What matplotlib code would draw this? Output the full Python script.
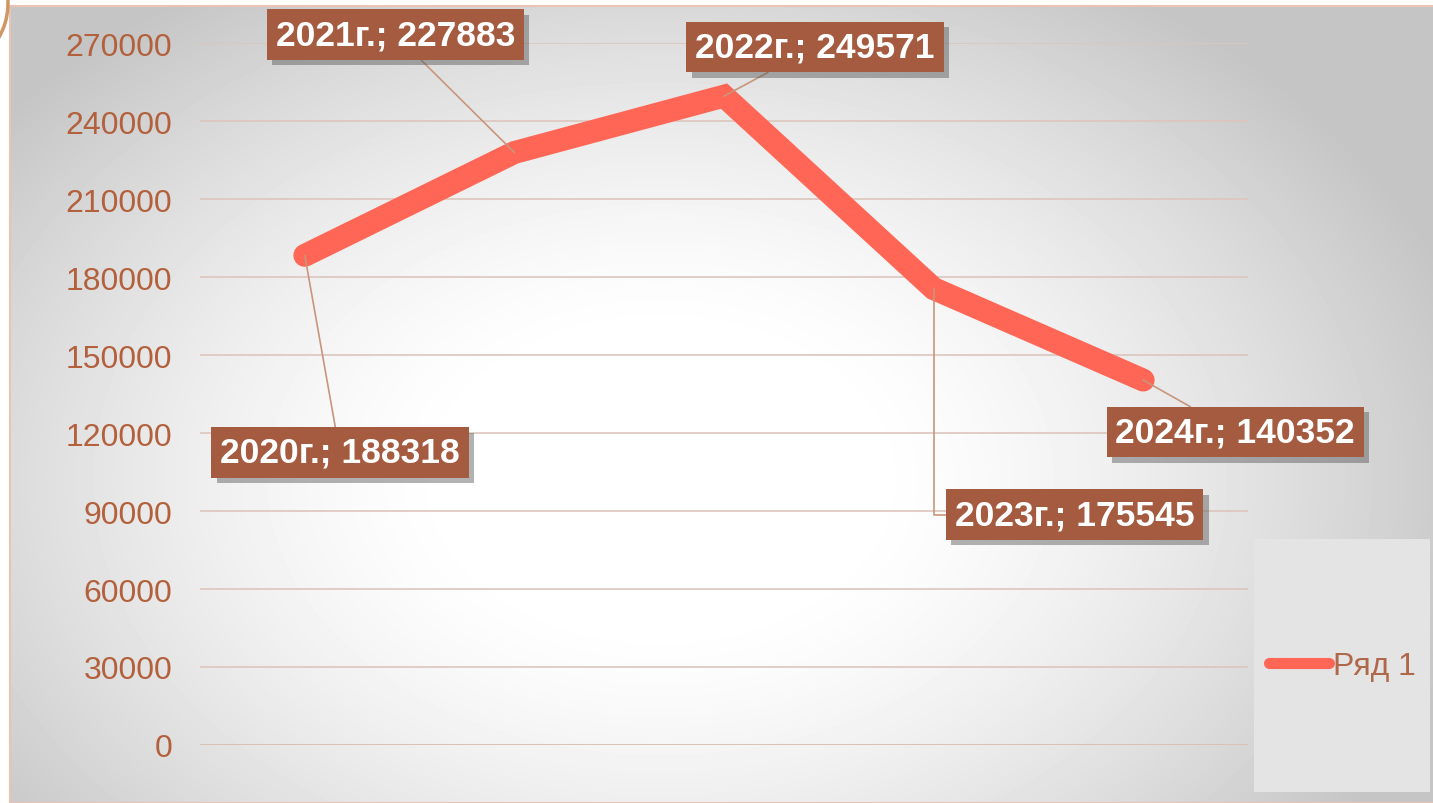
import numpy as np
import matplotlib
matplotlib.use("Agg")
import matplotlib.pyplot as plt
from matplotlib import patheffects
from matplotlib.patches import Rectangle, Arc

plt.rcParams['font.family'] = ['Liberation Sans', 'DejaVu Sans']

years = ["2020г.", "2021г.", "2022г.", "2023г.", "2024г."]
values = [188318, 227883, 249571, 175545, 140352]
series_name = "Ряд 1"
yticks = [0, 30000, 60000, 90000, 120000, 150000, 180000, 210000, 240000, 270000]

# label placement (pixel offsets from the point) and leader style
offsets = [(35, -197), (-119, 118), (91, 49), (141, -226), (92, -52)]
leader = [None, None, None, "angle,angleA=0,angleB=90,rad=0", None]

W, H = 1433, 804
fig = plt.figure(figsize=(W / 100, H / 100), dpi=100)
fig.patch.set_facecolor("white")

# slide background: radial gradient panel
bg = fig.add_axes([10 / W, 0, 1 - 10 / W, (H - 7) / H], zorder=-3)
bw, bh = W - 10, H - 7
yy, xx = np.mgrid[0:bh, 0:bw]
r = np.sqrt(((xx + 10 - 660) / 800.0) ** 2 + ((yy + 7 - 480) / 560.0) ** 2)
shade = 1 - 0.23 * np.clip((r - 0.25) / 0.8, 0, 1) ** 1.4
bg.imshow(shade, cmap="gray", vmin=0, vmax=1, aspect="auto", interpolation="bilinear")
bg.set_axis_off()
fig.patches.append(Rectangle((10 / W, 0), 1, (H - 7) / H, transform=fig.transFigure,
                             fill=False, edgecolor="#EBC3B4", lw=1.5, zorder=-1))
fig.patches.append(Arc((-62 / W, 1 - 4 / H), 140 / W, 140 / H, theta1=-60, theta2=20,
                       transform=fig.transFigure, color="#CF9764", lw=2.5, zorder=-1))

# legend panel
fig.patches.append(Rectangle((1254 / W, (H - 793) / H), 176 / W, 253 / H,
                             transform=fig.transFigure, facecolor="#E4E4E4",
                             edgecolor="none", zorder=-1))

ax = fig.add_axes([200 / W, (H - 746) / H, 1048 / W, 702 / H], zorder=1)
ax.set_facecolor("none")
x = np.arange(len(years))
line, = ax.plot(x, values, color="#FF6655", lw=16.5, solid_capstyle="round",
                solid_joinstyle="miter", label=series_name, zorder=3)

ax.set_xlim(-0.5, len(years) - 0.5)
ax.set_ylim(0, 270000)
ax.set_yticks(yticks)
ax.set_yticklabels([str(v) for v in yticks])
ax.set_xticks([])
ax.tick_params(axis="y", length=0, pad=20, labelsize=23, labelcolor="#B3603C")
for s in ax.spines.values():
    s.set_visible(False)
ax.grid(axis="y", color="#DCC6BD", lw=1.2, zorder=1)
ax.axhline(0, color="#C9A190", lw=1.2, zorder=1)

for i in range(len(years)):
    cs = leader[i] if leader[i] else "arc3"
    rp = (0, 0.5) if leader[i] else (0.5, 0.5)
    ann = ax.annotate(f"{years[i]}; {values[i]}", (x[i], values[i]),
                      xytext=offsets[i], textcoords="offset pixels",
                      ha="center", va="center", fontsize=25.5, fontweight="bold",
                      color="white", zorder=5,
                      bbox=dict(boxstyle="square,pad=0.25", facecolor="#A55B3F",
                                edgecolor="none"),
                      arrowprops=dict(arrowstyle="-", color="#C8967C", lw=1.2,
                                      shrinkA=0, shrinkB=0, connectionstyle=cs,
                                      relpos=rp))
    ann.get_bbox_patch().set_path_effects([
        patheffects.SimplePatchShadow(offset=(4, -4), shadow_rgbFace="#555555", alpha=0.45),
        patheffects.Normal()])

leg = ax.legend(handles=[line], loc="center", bbox_to_anchor=(1342 / W, (H - 667) / H),
                bbox_transform=fig.transFigure, frameon=False, fontsize=23,
                handlelength=1.9, handletextpad=0.1, labelcolor="#B0684A")
for h in leg.get_lines():
    h.set_linewidth(8)
    h.set_solid_capstyle("round")

fig.savefig("out.png", dpi=100)
